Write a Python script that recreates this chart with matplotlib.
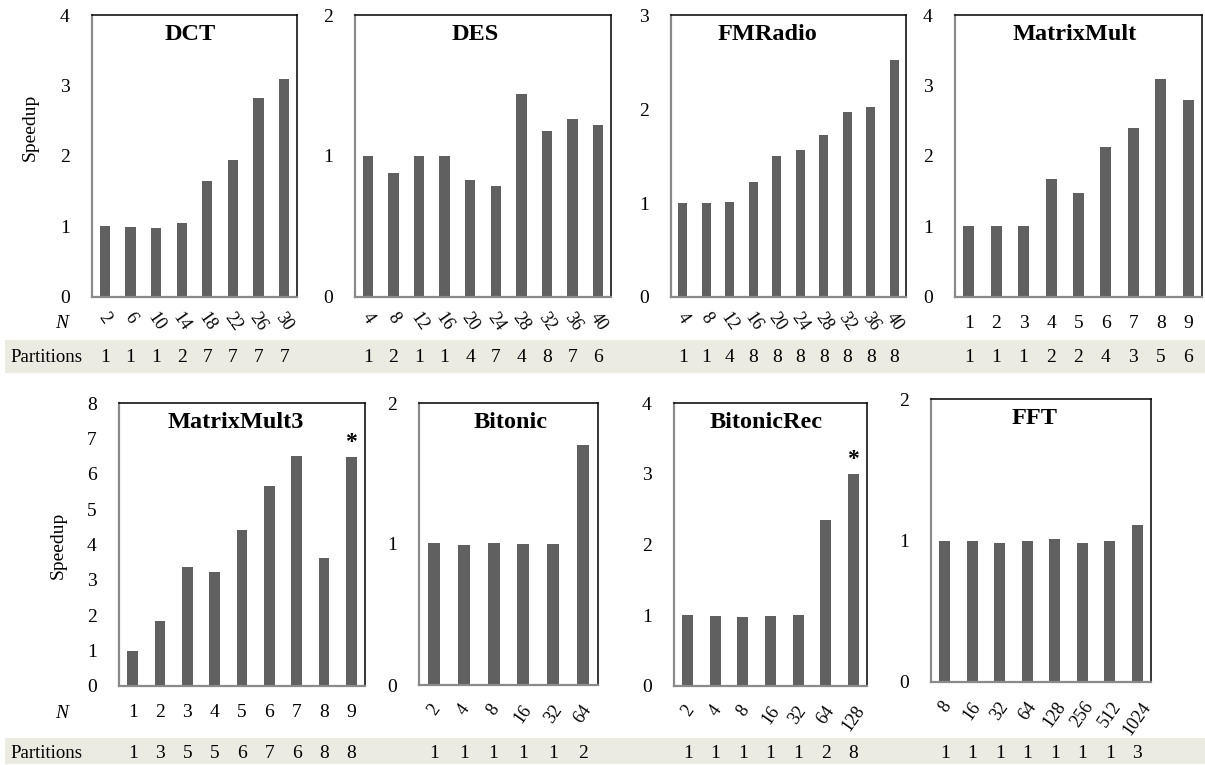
import matplotlib.pyplot as plt
from matplotlib.patches import Rectangle
from matplotlib.transforms import blended_transform_factory

plt.rcParams['font.family'] = ['Liberation Serif', 'DejaVu Serif']

# Data
dct_n = ["2", "6", "10", "14", "18", "22", "26", "30"]
dct_speedup = [1.0, 0.99, 0.985, 1.05, 1.64, 1.95, 2.82, 3.09]
dct_parts = [1, 1, 1, 2, 7, 7, 7, 7]

des_n = ["4", "8", "12", "16", "20", "24", "28", "32", "36", "40"]
des_speedup = [1.0, 0.88, 1.0, 1.0, 0.83, 0.79, 1.44, 1.18, 1.26, 1.22]
des_parts = [1, 2, 1, 1, 4, 7, 4, 8, 7, 6]

fm_n = ["4", "8", "12", "16", "20", "24", "28", "32", "36", "40"]
fm_speedup = [1.0, 1.0, 1.01, 1.22, 1.50, 1.56, 1.72, 1.97, 2.02, 2.52]
fm_parts = [1, 1, 4, 8, 8, 8, 8, 8, 8, 8]

mm_n = ["1", "2", "3", "4", "5", "6", "7", "8", "9"]
mm_speedup = [1.0, 1.0, 1.0, 1.67, 1.48, 2.13, 2.40, 3.09, 2.79]
mm_parts = [1, 1, 1, 2, 2, 4, 3, 5, 6]

mm3_n = ["1", "2", "3", "4", "5", "6", "7", "8", "9"]
mm3_speedup = [1.0, 1.84, 3.36, 3.22, 4.40, 5.65, 6.51, 3.61, 6.48]
mm3_parts = [1, 3, 5, 5, 6, 7, 6, 8, 8]

bit_n = ["2", "4", "8", "16", "32", "64"]
bit_speedup = [1.01, 0.99, 1.01, 1.0, 1.0, 1.70]
bit_parts = [1, 1, 1, 1, 1, 2]

bitrec_n = ["2", "4", "8", "16", "32", "64", "128"]
bitrec_speedup = [1.0, 0.99, 0.97, 0.985, 1.0, 2.34, 2.99]
bitrec_parts = [1, 1, 1, 1, 1, 2, 8]

fft_n = ["8", "16", "32", "64", "128", "256", "512", "1024"]
fft_speedup = [1.0, 1.0, 0.98, 1.0, 1.01, 0.98, 1.0, 1.11]
fft_parts = [1, 1, 1, 1, 1, 1, 1, 3]

W, H = 1205, 765

def fx(x):
    return x / W

def fy(y):
    return 1 - y / H

# name, n, speedup, parts, ymax, box (px), title x, label rotation, star on last bar
panels = [
    ("DCT", dct_n, dct_speedup, dct_parts, 4, (92, 15, 297, 297), 0.48, -55, False),
    ("DES", des_n, des_speedup, des_parts, 2, (355, 15, 611, 297), 0.47, -55, False),
    ("FMRadio", fm_n, fm_speedup, fm_parts, 3, (671, 15, 906, 297), 0.41, -55, False),
    ("MatrixMult", mm_n, mm_speedup, mm_parts, 4, (955, 15, 1202, 297), 0.486, 0, False),
    ("MatrixMult3", mm3_n, mm3_speedup, mm3_parts, 8, (119, 403, 365, 686), 0.476, 0, True),
    ("Bitonic", bit_n, bit_speedup, bit_parts, 2, (419, 403, 598, 685), 0.51, 55, False),
    ("BitonicRec", bitrec_n, bitrec_speedup, bitrec_parts, 4, (674, 403, 867, 686), 0.477, 55, True),
    ("FFT", fft_n, fft_speedup, fft_parts, 2, (931, 399, 1151, 682), 0.47, 55, False),
]

fig = plt.figure(figsize=(12.05, 7.65), dpi=100)

# shaded "Partitions" strips
fig.add_artist(Rectangle((fx(5), fy(373)), fx(1200), 33 / H, transform=fig.transFigure,
                         facecolor='#ecebe2', edgecolor='none', zorder=0))
fig.add_artist(Rectangle((fx(5), fy(764)), fx(1200), 26 / H, transform=fig.transFigure,
                         facecolor='#ecebe2', edgecolor='none', zorder=0))

for name, n, speed, parts, ymax, box, tx, rot, star in panels:
    x0, y0, x1, y1 = box
    ax = fig.add_axes([fx(x0), fy(y1), (x1 - x0) / W, (y1 - y0) / H])
    xs = list(range(len(n)))
    ax.bar(xs, speed, width=0.4, color='#606060', zorder=2)
    ax.set_xlim(-0.5, len(n) - 0.5)
    ax.set_ylim(0, ymax)
    ax.set_yticks(range(ymax + 1))
    ax.tick_params(axis='y', length=0, pad=16, labelsize=14)
    ax.set_xticks(xs)
    if rot == 0:
        ax.set_xticklabels(n, fontsize=14)
        ax.tick_params(axis='x', length=0, pad=13)
    else:
        ax.set_xticklabels(n, fontsize=13, rotation=rot, ha='center', va='top')
        ax.tick_params(axis='x', length=0, pad=9 if y0 < 100 else 12)
    for s in ['left', 'bottom']:
        ax.spines[s].set_color('#8a8a8a')
        ax.spines[s].set_linewidth(1.6)
    for s in ['top', 'right']:
        ax.spines[s].set_color('black')
        ax.spines[s].set_linewidth(1.1)
    ax.text(tx, 1 - 19 / (y1 - y0), name, transform=ax.transAxes, ha='center', va='center',
            fontsize=17.5, fontweight='bold')
    if star:
        ax.annotate('*', (xs[-1], speed[-1]), xytext=(0, 3), textcoords='offset points',
                    ha='center', va='bottom', fontsize=17, fontweight='bold')
    # partitions row under each panel
    ty = fy(358) if y0 < 100 else fy(754)
    trans = blended_transform_factory(ax.transData, fig.transFigure)
    for xi, p in zip(xs, parts):
        ax.text(xi, ty, str(p), transform=trans, ha='center', va='center', fontsize=14,
                clip_on=False)

# row labels
fig.text(fx(30), fy(127), "Speedup", rotation=90, ha='center', va='center', fontsize=14)
fig.text(fx(58), fy(545), "Speedup", rotation=90, ha='center', va='center', fontsize=14)
fig.text(fx(62), fy(323), "N", style='italic', ha='center', va='center', fontsize=14)
fig.text(fx(62), fy(713), "N", style='italic', ha='center', va='center', fontsize=14)
fig.text(fx(10), fy(358), "Partitions", ha='left', va='center', fontsize=13.5)
fig.text(fx(10), fy(754), "Partitions", ha='left', va='center', fontsize=13.5)

plt.savefig("out.png", dpi=100)
